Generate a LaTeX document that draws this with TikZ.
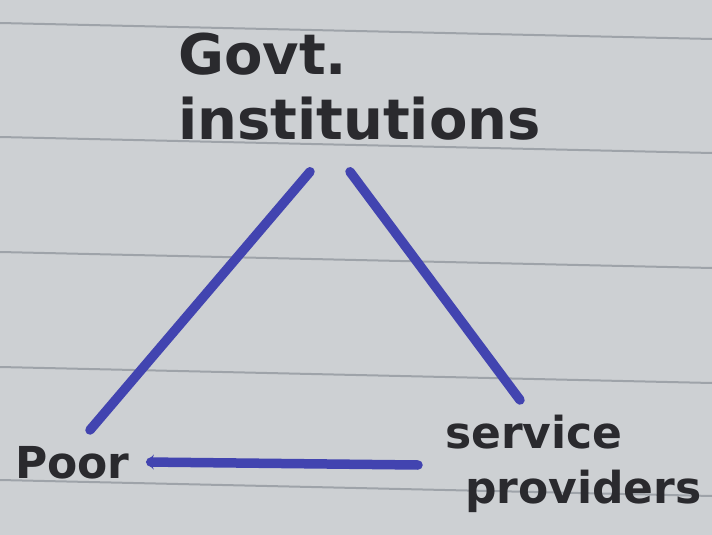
\documentclass[tikz,border=0pt]{standalone}
\usepackage{fontspec}
\setmainfont{DejaVu Sans}
\usetikzlibrary{arrows.meta}
\definecolor{paper}{RGB}{205,208,211}
\definecolor{rule}{RGB}{158,163,169}
\definecolor{ink}{RGB}{42,42,46}
\definecolor{pen}{RGB}{66,68,176}
\begin{document}
\begin{tikzpicture}[x=1pt,y=-1pt,
  word/.style={text=ink,font=\fontsize{44}{55}\selectfont\bfseries,inner sep=0pt,align=left},
  stroke/.style={draw=pen,line width=9.5pt,line cap=round}]
      \useasboundingbox (0,0) rectangle (712,535);
      \fill[paper] (0,0) rectangle (712,535);
      \foreach \y in {23,137,252,367,480}
        \draw[rule,line width=2pt] (0,\y) -- (712,\y+16);
      \node[word,font=\fontsize{56}{65}\selectfont\bfseries,anchor=north west] at (178,33) (govt){Govt.\\institutions};
      \node[word,anchor=base west] at (15,478) (poor){Poor};
      \node[word,anchor=north west] at (445,415) (serv){service\\\hspace*{20pt}providers};
      \draw[stroke] ([shift={(132,31)}]govt.south west) -- ([shift={(75,-48)}]poor.base west);
      \draw[stroke] ([shift={(172,31)}]govt.south west) -- ([shift={(75,-15)}]serv.north west);
      \draw[stroke,{Stealth[length=8pt,width=15pt]}-] ([shift={(16,-16)}]poor.base east) -- ([shift={(-27,50)}]serv.north west);
\end{tikzpicture}
\end{document}
